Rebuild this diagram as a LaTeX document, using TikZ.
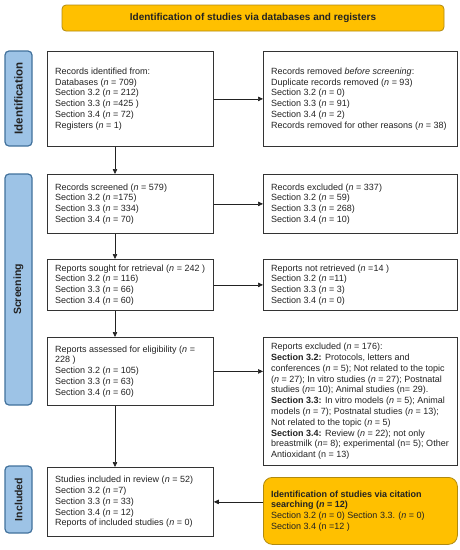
\documentclass[tikz,border=0pt]{standalone}
\usepackage{fontspec}
\setmainfont{Liberation Sans}
\usetikzlibrary{arrows.meta}
\definecolor{gold}{HTML}{FFC000}
\definecolor{goldborder}{HTML}{B08A10}
\definecolor{sideblue}{HTML}{9DC3E6}
\definecolor{sideborder}{HTML}{41719C}
\definecolor{ink}{HTML}{222222}
\definecolor{boxline}{HTML}{333333}
\newcommand{\nn}{\textit{n}}
% #1 name, #2 style, #3 north-west corner, #4 width, #5 height, #6 text
\newcommand{\pbox}[6]{%
  \node[#2, minimum width=#4, minimum height=#5] (#1) at (#3) {};
  \node[boxtext] (#1t) at ([xshift=8pt]#1.west) {#6};}
\begin{document}
\begin{tikzpicture}[x=1pt,y=-1pt,
  every node/.style={font=\fontsize{9}{10.8}\selectfont, text=ink},
  plain/.style={draw=boxline, line width=0.8pt, anchor=north west, inner sep=0pt},
  golden/.style={draw=goldborder, fill=gold, line width=0.8pt, rounded corners=9pt, anchor=north west, inner sep=0pt},
  boxtext/.style={anchor=west, align=left, inner sep=0pt},
  sidelab/.style={draw=sideborder, fill=sideblue, line width=1.2pt, rounded corners=4pt, rotate=90, minimum height=27pt, inner sep=0pt, font=\fontsize{10.5}{11}\selectfont\bfseries},
  arr/.style={draw=ink, line width=0.6pt, -{Triangle[length=5pt,width=4.5pt]}}
]
\useasboundingbox (0,0) rectangle (460,550);

% banner
\node[draw=goldborder, fill=gold, line width=0.8pt, rounded corners=4pt, minimum width=382pt, minimum height=26pt, inner sep=0pt, font=\fontsize{10}{11}\selectfont\bfseries] (banner) at (253,18) {Identification of studies via databases and registers};

% side labels
\node[sidelab, minimum width=95pt, font=\fontsize{11.5}{12}\selectfont\bfseries] (sid) at (18.5,98.5) {Identification};
\node[sidelab, minimum width=231pt] (ssc) at (18.5,289.5) {Screening};
\node[sidelab, minimum width=67pt] (sin) at (18.5,499.5) {Included};

% left boxes
\pbox{b1}{plain}{47,51}{166pt}{95pt}{Records identified from:\\
Databases (\nn{} = 709)\\
Section 3.2 (\nn{} = 212)\\
Section 3.3 (\nn{} =425 )\\
Section 3.4 (\nn{} = 72)\\
Registers (\nn{} = 1)}
\pbox{b2}{plain}{47,174}{166pt}{59pt}{Records screened (\nn{} = 579)\\
Section 3.2 (\nn{} =175)\\
Section 3.3 (\nn{} = 334)\\
Section 3.4 (\nn{} = 70)}
\pbox{b3}{plain}{47,259}{166pt}{51pt}{Reports sought for retrieval (\nn{} = 242 )\\
Section 3.2 (\nn{} = 116)\\
Section 3.3 (\nn{} = 66)\\
Section 3.4 (\nn{} = 60)}
\pbox{b4}{plain}{47,337}{166pt}{68pt}{Reports assessed for eligibility (\nn{} =\\
228 )\\
Section 3.2 (\nn{} = 105)\\
Section 3.3 (\nn{} = 63)\\
Section 3.4 (\nn{} = 60)}
\pbox{b5}{plain}{47,467}{166pt}{69pt}{Studies included in review (\nn{} = 52)\\
Section 3.2 (\nn{} =7)\\
Section 3.3 (\nn{} = 33)\\
Section 3.4 (\nn{} = 12)\\
Reports of included studies (\nn{} = 0)}

% right boxes
\pbox{r1}{plain}{263,51}{194pt}{95pt}{Records removed \textit{before screening}:\\
Duplicate records removed (\nn{} = 93)\\
Section 3.2 (\nn{} = 0)\\
Section 3.3 (\nn{} = 91)\\
Section 3.4 (\nn{} = 2)\\
Records removed for other reasons (\nn{} = 38)}
\pbox{r2}{plain}{263,174}{194pt}{59pt}{Records excluded (\nn{} = 337)\\
Section 3.2 (\nn{} = 59)\\
Section 3.3 (\nn{} = 268)\\
Section 3.4 (\nn{} = 10)}
\pbox{r3}{plain}{263,259}{194pt}{51pt}{Reports not retrieved (\nn{} =14 )\\
Section 3.2 (\nn{} =11)\\
Section 3.3 (\nn{} = 3)\\
Section 3.4 (\nn{} = 0)}
\pbox{r4}{plain}{263,337}{194pt}{128pt}{Reports excluded (\nn{} = 176):\\
\textbf{Section 3.2:} Protocols, letters and\\
conferences (\nn{} = 5); Not related to the topic\\
(\nn{} = 27); In vitro studies (\nn{} = 27); Postnatal\\
studies (\nn{}= 10); Animal studies (n= 29).\\
\textbf{Section 3.3:} In vitro models (\nn{} = 5); Animal\\
models (\nn{} = 7); Postnatal studies (\nn{} = 13);\\
Not related to the topic (\nn{} = 5)\\
\textbf{Section 3.4:} Review (\nn{} = 22); not only\\
breastmilk (\nn{}= 8); experimental (n= 5); Other\\
Antioxidant (n = 13)}
\pbox{cit}{golden}{263,477}{194pt}{67pt}{\textbf{Identification of studies via citation}\\
\textbf{searching (\textit{n} = 12)}\\
Section 3.2 (\nn{} = 0) Section 3.3. (\nn{} = 0)\\
Section 3.4 (n =12 )}

% connectors
\coordinate (vx) at (115,0);
\draw[arr] (b1.south -| vx) -- (b2.north -| vx);
\draw[arr] (b2.south -| vx) -- (b3.north -| vx);
\draw[arr] (b3.south -| vx) -- (b4.north -| vx);
\draw[arr] (b4.south -| vx) -- (b5.north -| vx);
\draw[arr] (b1.east) -- (r1.west |- b1.east);
\draw[arr] (b2.east) -- (r2.west |- b2.east);
\draw[arr] (b3.east) -- (r3.west |- b3.east);
\draw[arr] (b4.east) -- (r4.west |- b4.east);
\draw[arr] (cit.west |- b5.east) -- (b5.east);
\end{tikzpicture}
\end{document}
